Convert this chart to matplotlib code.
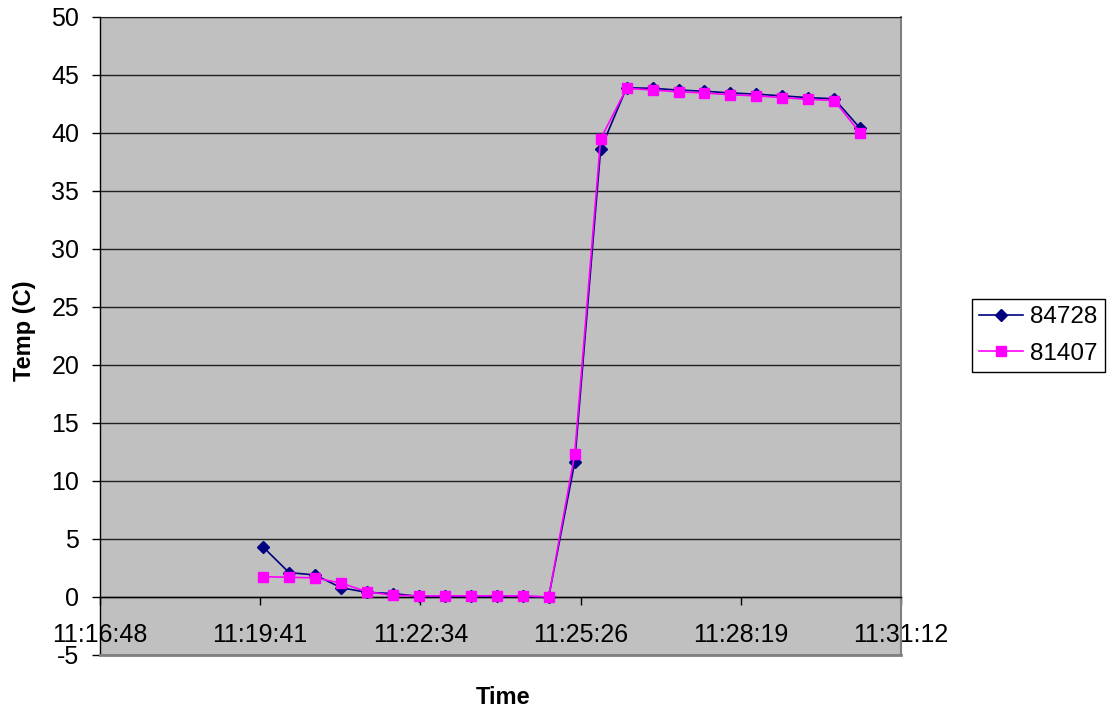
import matplotlib
matplotlib.use('Agg')
import matplotlib.pyplot as plt

plt.rcParams['font.family'] = ['Liberation Sans', 'DejaVu Sans']
plt.rcParams['axes.unicode_minus'] = False

# sample times and temperatures
times = ["11:19:44", "11:20:12", "11:20:40", "11:21:08", "11:21:36", "11:22:04",
         "11:22:32", "11:23:00", "11:23:28", "11:23:56", "11:24:24", "11:24:52",
         "11:25:20", "11:25:48", "11:26:16", "11:26:44", "11:27:12", "11:27:40",
         "11:28:08", "11:28:36", "11:29:04", "11:29:32", "11:30:00", "11:30:28"]
s84728 = [4.3, 2.1, 1.9, 0.8, 0.4, 0.3, 0.05, 0.05, 0.05, 0.05, 0.05, 0.0,
          11.6, 38.6, 43.9, 43.85, 43.7, 43.6, 43.45, 43.35, 43.2, 43.05, 42.95, 40.4]
s81407 = [1.75, 1.7, 1.65, 1.2, 0.45, 0.15, 0.1, 0.1, 0.1, 0.1, 0.1, 0.0,
          12.3, 39.5, 43.85, 43.7, 43.55, 43.45, 43.3, 43.2, 43.05, 42.9, 42.8, 40.0]
tick_labels = ["11:16:48", "11:19:41", "11:22:34", "11:25:26", "11:28:19", "11:31:12"]
y_ticks = [-5, 0, 5, 10, 15, 20, 25, 30, 35, 40, 45, 50]


def to_day(t):
    h, m, s = [int(v) for v in t.split(':')]
    return (h * 3600 + m * 60 + s) / 86400.0


x = [to_day(t) for t in times]
x_ticks = [round(to_day(t) * 500) / 500 for t in tick_labels]

fig = plt.figure(figsize=(11.13, 7.15), dpi=100)
ax = fig.add_axes([100 / 1113, 1 - 655 / 715, 801 / 1113, 638 / 715])
ax.set_facecolor('#C0C0C0')

ax.plot(x, s84728, color='#000080', lw=1.2, marker='D', markersize=6.5,
        label='84728', zorder=3)
ax.plot(x, s81407, color='#FF00FF', lw=1.2, marker='s', markersize=7,
        label='81407', zorder=4)

ax.set_xlim(x_ticks[0], x_ticks[-1])
ax.set_ylim(-5, 50)
ax.set_yticks(y_ticks)
ax.set_xticks(x_ticks)
ax.set_xticklabels(tick_labels)

ax.yaxis.grid(True, color='#202020', lw=1.0)
ax.set_axisbelow(True)

ax.spines['bottom'].set_position(('data', 0))
ax.spines['bottom'].set_color('black')
ax.spines['bottom'].set_linewidth(1.0)
ax.spines['left'].set_color('black')
ax.spines['left'].set_linewidth(1.0)
ax.spines['top'].set_color('#202020')
ax.spines['right'].set_color('#808080')
ax.spines['right'].set_linewidth(1.5)
ax.axhline(-5, color='#808080', lw=2.0, clip_on=False, zorder=5)

ax.tick_params(axis='y', direction='out', length=6, width=1, pad=9, labelsize=18)
ax.tick_params(axis='x', direction='out', length=6, width=1, pad=13, labelsize=18)

fig.text(24 / 1113, 1 - 331 / 715, 'Temp (C)', rotation=90, ha='center',
         va='center', fontsize=17, fontweight='bold')
fig.text(503 / 1113, 1 - 697 / 715, 'Time', ha='center', va='center',
         fontsize=17, fontweight='bold')

leg = ax.legend(loc='upper left', bbox_to_anchor=(972 / 1113, 1 - 299 / 715),
                bbox_transform=fig.transFigure, fontsize=17.5, frameon=True,
                fancybox=False, framealpha=1, edgecolor='black',
                borderpad=0.3, handlelength=1.8, handletextpad=0.3,
                labelspacing=0.6, borderaxespad=0)
leg.get_frame().set_linewidth(1.0)

fig.savefig('out.png', dpi=100)
